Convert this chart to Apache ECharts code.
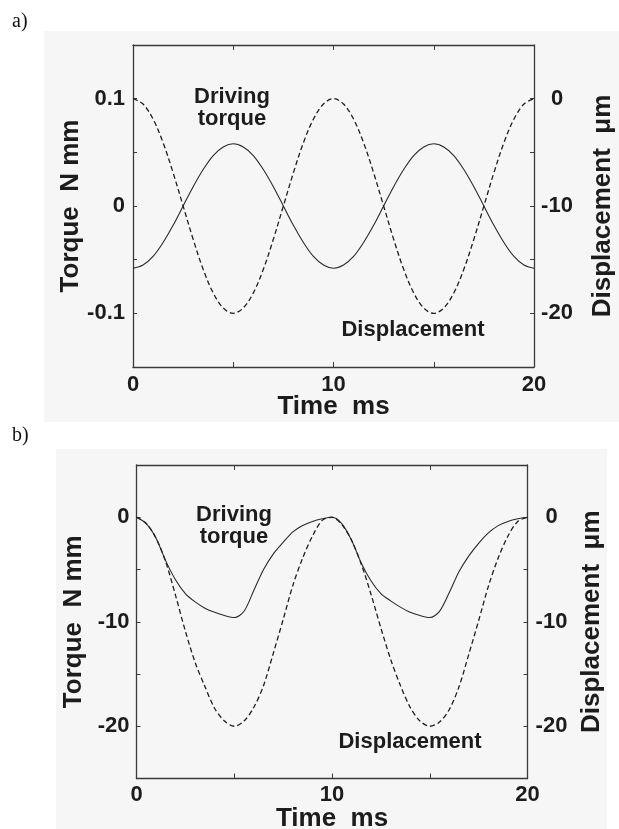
<!DOCTYPE html>
<html>
<head>
<meta charset="utf-8">
<script src="https://cdn.jsdelivr.net/npm/echarts@6/dist/echarts.min.js"></script>
<style>
html,body{margin:0;padding:0;background:#fff;}
#c{width:619px;height:829px;}
</style>
</head>
<body>
<div id="c"></div>
<script>
// time axis (ms)
var time = [0,0.5,1,1.5,2,2.5,3,3.5,4,4.5,5,5.5,6,6.5,7,7.5,8,8.5,9,9.5,10,
            10.5,11,11.5,12,12.5,13,13.5,14,14.5,15,15.5,16,16.5,17,17.5,18,18.5,19,19.5,20];

// a) driving torque (N mm) and displacement (um)
var torqueA = [-0.058,-0.055,-0.047,-0.034,-0.018,0,0.018,0.034,0.047,0.055,0.058,
               0.055,0.047,0.034,0.018,0,-0.018,-0.034,-0.047,-0.055,-0.058,
               -0.055,-0.047,-0.034,-0.018,0,0.018,0.034,0.047,0.055,0.058,
               0.055,0.047,0.034,0.018,0,-0.018,-0.034,-0.047,-0.055,-0.058];
var dispA = [0,-0.5,-1.9,-4.1,-6.9,-10,-13.1,-15.9,-18.1,-19.5,-20,
             -19.5,-18.1,-15.9,-13.1,-10,-6.9,-4.1,-1.9,-0.5,0,
             -0.5,-1.9,-4.1,-6.9,-10,-13.1,-15.9,-18.1,-19.5,-20,
             -19.5,-18.1,-15.9,-13.1,-10,-6.9,-4.1,-1.9,-0.5,0];

// b) driving torque (N mm) and displacement (um)
var torqueB = [0,-0.6,-2.0,-4.2,-6.0,-7.3,-8.1,-8.7,-9.1,-9.4,-9.6,
               -9.0,-7.0,-5.0,-3.5,-2.4,-1.4,-0.8,-0.4,-0.15,0,
               -0.6,-2.2,-4.4,-6.1,-7.3,-8.0,-8.6,-9.1,-9.4,-9.6,
               -9.0,-7.2,-5.2,-3.7,-2.5,-1.5,-0.8,-0.4,-0.15,0];
var dispB = [0,-0.6,-2.0,-4.3,-7.5,-10.9,-13.9,-16.2,-18.3,-19.5,-20,
             -19.5,-18.2,-16.1,-13.0,-9.8,-6.5,-3.9,-1.8,-0.3,0,
             -0.7,-2.2,-4.5,-7.4,-10.6,-13.6,-16.1,-18.2,-19.5,-20,
             -19.6,-18.4,-16.2,-13.1,-9.9,-6.6,-3.9,-1.8,-0.4,0];

var xTicks = [0,10,20];
var torqueATicks = [-0.1,0,0.1];
var dispTicks = [-20,-10,0];

function pairs(xs, ys){ return xs.map(function(x,i){ return [x, ys[i]]; }); }
function near(list, v){ for (var i=0;i<list.length;i++){ if (Math.abs(list[i]-v)<1e-6) return true; } return false; }
function fmt(list){ return function(v){ return near(list, v) ? String(Math.round(v*1000)/1000) : ''; }; }

var FONT = '"Liberation Sans", Arial, sans-serif';
var TXT = '#1c1c1c';
var AX = '#3a3a3a';

function xAx(grid, pos, show, gap, margin){
  return {
    type:'value', gridIndex:grid, position:pos, min:0, max:20, interval:5,
    name: show ? 'Time  ms' : '', nameLocation:'middle', nameGap: gap, nameMoveOverlap:false,
    nameTextStyle:{fontFamily:FONT, fontWeight:'bold', fontSize:26, color:TXT},
    axisLine:{show:true, onZero:false, lineStyle:{color:AX, width:1.3}},
    axisTick:{show:true, inside:true, length:5, lineStyle:{color:AX, width:1}},
    axisLabel:{show:show, margin:margin, formatter:fmt(xTicks), fontFamily:FONT, fontWeight:'bold', fontSize:22, color:TXT},
    splitLine:{show:false}
  };
}
function yAx(grid, pos, min, max, interval, ticks, name, gap, margin, align){
  return {
    type:'value', gridIndex:grid, position:pos, min:min, max:max, interval:interval,
    name:name, nameLocation:'middle', nameGap:gap, nameMoveOverlap:false,
    nameTextStyle:{fontFamily:FONT, fontWeight:'bold', fontSize:26, color:TXT},
    axisLine:{show:true, onZero:false, lineStyle:{color:AX, width:1.3}},
    axisTick:{show:true, inside:true, length:4, lineStyle:{color:AX, width:1}},
    axisLabel:{show:true, margin:margin, align:align, formatter:fmt(ticks), fontFamily:FONT, fontWeight:'bold', fontSize:22, color:TXT},
    splitLine:{show:false}
  };
}

var solid = {color:'#2a2a2a', width:1.1, type:'solid'};
var dashed = {color:'#1e1e1e', width:1.3, type:[5,3]};

var chart = echarts.init(document.getElementById('c'), null, {renderer:'canvas'});
chart.setOption({
  animation:false,
  backgroundColor:'#ffffff',
  grid:[
    {left:133, top:45, width:401, height:322, outerBoundsMode:'none', containLabel:false},
    {left:136.5, top:465, width:391, height:313.5, outerBoundsMode:'none', containLabel:false}
  ],
  xAxis:[
    xAx(0,'bottom',true,27,7), xAx(0,'top',false,0,8),
    xAx(1,'bottom',true,27.5,5), xAx(1,'top',false,0,8)
  ],
  yAxis:[
    yAx(0,'left',-0.15,0.15,0.05,torqueATicks,'Torque  N mm',49,8,'right'),
    yAx(0,'right',-25,5,5,dispTicks,'Displacement  μm',55.5,23,'center'),
    yAx(1,'left',-25,5,5,dispTicks,'Torque  N mm',49.5,7,'right'),
    yAx(1,'right',-25,5,5,dispTicks,'Displacement  μm',51.5,24,'center')
  ],
  series:[
    {type:'line', xAxisIndex:0, yAxisIndex:0, data:pairs(time,torqueA), smooth:0.35, showSymbol:false, lineStyle:solid, z:3},
    {type:'line', xAxisIndex:0, yAxisIndex:1, data:pairs(time,dispA), smooth:0.35, showSymbol:false, lineStyle:dashed, z:3},
    {type:'line', xAxisIndex:2, yAxisIndex:2, data:pairs(time,torqueB), smooth:0.3, showSymbol:false, lineStyle:solid, z:3},
    {type:'line', xAxisIndex:2, yAxisIndex:3, data:pairs(time,dispB), smooth:0.3, showSymbol:false, lineStyle:dashed, z:3}
  ],
  graphic:[
    {type:'rect', z:-10, silent:true, shape:{x:44, y:31, width:575, height:391}, style:{fill:'#f6f6f6'}},
    {type:'rect', z:-10, silent:true, shape:{x:56, y:449, width:551, height:380}, style:{fill:'#f6f6f6'}},
    {type:'text', z:10, style:{text:'a)', x:12, y:22, verticalAlign:'middle', font:'20px "Liberation Serif", "Times New Roman", serif', fill:'#111'}},
    {type:'text', z:10, style:{text:'b)', x:12, y:436, verticalAlign:'middle', font:'20px "Liberation Serif", "Times New Roman", serif', fill:'#111'}},
    {type:'text', z:10, style:{text:'Driving\ntorque', x:232, y:108, align:'center', verticalAlign:'middle', lineHeight:22, font:'bold 22px "Liberation Sans", Arial, sans-serif', fill:TXT}},
    {type:'text', z:10, style:{text:'Displacement', x:413, y:330, align:'center', verticalAlign:'middle', font:'bold 22px "Liberation Sans", Arial, sans-serif', fill:TXT}},
    {type:'text', z:10, style:{text:'Driving\ntorque', x:234, y:526, align:'center', verticalAlign:'middle', lineHeight:22, font:'bold 22px "Liberation Sans", Arial, sans-serif', fill:TXT}},
    {type:'text', z:10, style:{text:'Displacement', x:410, y:742, align:'center', verticalAlign:'middle', font:'bold 22px "Liberation Sans", Arial, sans-serif', fill:TXT}}
  ]
});
</script>
</body>
</html>
